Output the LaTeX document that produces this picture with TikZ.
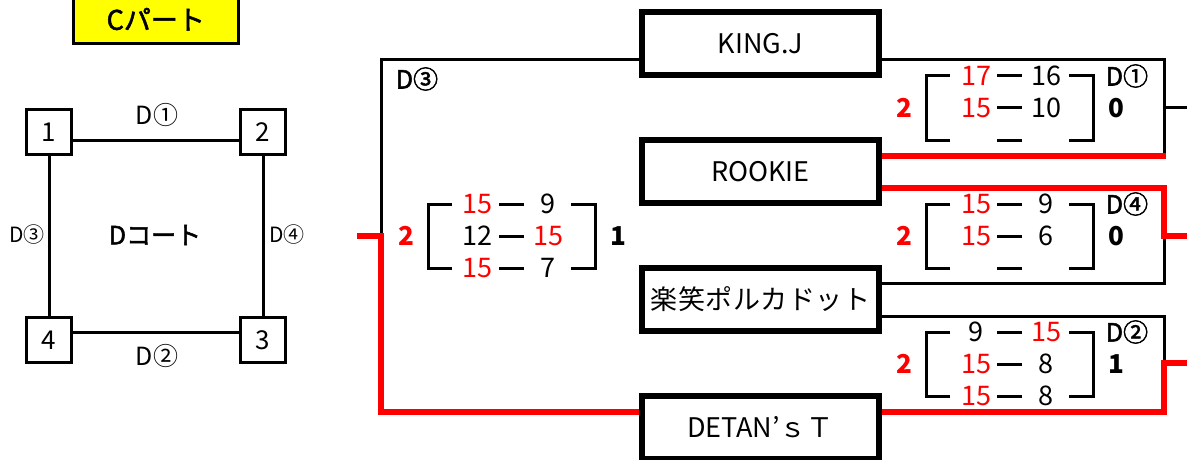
\documentclass[tikz,border=0pt]{standalone}
\usepackage{fontspec}
\setmainfont{Noto Sans CJK JP}
\newfontfamily\medfont[FakeBold=2]{Noto Sans CJK JP}
\definecolor{rd}{RGB}{255,0,0}
\definecolor{yl}{RGB}{255,255,0}
\tikzset{
  team/.style={draw, line width=6pt, minimum width=237pt, minimum height=63pt, inner sep=0pt, font=\fontsize{27}{27}\selectfont},
  cbox/.style={draw, line width=3pt, minimum size=45pt, inner sep=0pt, font=\fontsize{26}{26}\selectfont},
  lose/.style={line width=3pt},
  win/.style={draw=rd, line width=6pt},
  brk/.style={line width=3pt},
  sc/.style={inner sep=0pt, font=\fontsize{27}{27}\selectfont},
  scr/.style={sc, text=rd},
  res/.style={inner sep=0pt, font=\bfseries\fontsize{26}{26}\selectfont},
  resr/.style={res, text=rd},
  lbl/.style={inner sep=0pt, font=\medfont\fontsize{25}{25}\selectfont},
  side/.style={inner sep=0pt, font=\fontsize{21}{21}\selectfont},
  topl/.style={inner sep=0pt, font=\fontsize{25}{25}\selectfont},
}
\newcommand{\bkt}[2]{%
  \draw[brk] (#1+24,#2-32) -- (#1,#2-32) -- (#1,#2+32) -- (#1+24,#2+32);
  \draw[brk] (#1+143,#2-32) -- (#1+167,#2-32) -- (#1+167,#2+32) -- (#1+143,#2+32);
  \foreach \d in {-32,0,32} \draw[brk] (#1+71,#2+\d) -- (#1+96,#2+\d);
}
\begin{document}
\begin{tikzpicture}[x=1pt,y=-1pt]
\useasboundingbox (0,0) rectangle (1187,460);
% ---- left: court
\node[draw, line width=3pt, fill=yl, minimum width=164.5pt, minimum height=48.5pt, inner sep=0pt,
      font=\medfont\fontsize{27}{27}\selectfont] (cp) at (155.75,19.25) {Cパート};
\node[cbox] (c1) at (49,132) {1};
\node[cbox] (c2) at (263,132) {2};
\node[cbox] (c3) at (263,340) {3};
\node[cbox] (c4) at (49,340) {4};
\draw[lose] ([yshift=-8pt]c1.east) -- ([yshift=-8pt]c2.west);
\draw[lose] ([yshift=8pt]c4.east) -- ([yshift=8pt]c3.west);
\draw[lose] (c1.south) -- (c4.north);
\draw[lose] (c2.south) -- (c3.north);
\node[topl] (l1) at (157,115) {D①};
\node[topl] (l2) at (157,356) {D②};
\node[side] (l3) at (27,235) {D③};
\node[side] (l4) at (287,235) {D④};
\node[inner sep=0pt, font=\medfont\fontsize{25}{25}\selectfont] (court) at (155,235) {Dコート};
% ---- teams
\node[team] (K) at (760.5,43.5) {KING.J};
\node[team] (R) at (760.5,171.5) {ROOKIE};
\node[team] (G) at (760.5,299.5) {\makebox[220pt][s]{楽\hfil 笑\hfil ポ\hfil ル\hfil カ\hfil ド\hfil ッ\hfil ト}};
\node[team] (T) at (760.5,427.5) {DETAN’ｓＴ};
% ---- corner coordinates
\coordinate (a1) at (381,60);
\coordinate (a2) at (381,236);
\coordinate (a0) at (357,236);
\coordinate (a3) at (381,412);
\coordinate (b1) at (1164,60);
\coordinate (b2) at (1164,156);
\coordinate (b3) at (1164,108);
\coordinate (b4) at (1187,108);
\coordinate (e1) at (1164,188);
\coordinate (e2) at (1164,236);
\coordinate (e3) at (1187,236);
\coordinate (e4) at (1164,283);
\coordinate (f1) at (1164,316);
\coordinate (f2) at (1164,363);
\coordinate (f3) at (1187,363);
\coordinate (f4) at (1164,412);
% ---- D3
\draw[lose] ([yshift=-16.5pt]K.west) -- (a1) -- (a2);
\draw[win] (a0) -- (a2) -- (a3) -- ([yshift=15.5pt]T.west);
% ---- D1
\draw[lose] ([yshift=-16.5pt]K.east) -- (b1) -- (b2);
\draw[lose] (b3) -- (b4);
\draw[win] ([yshift=15.5pt]R.east) -- ([xshift=1.5pt]b2);
% ---- D4
\draw[lose] ([yshift=16.5pt]G.east) -- (e4) -- (e2);
\draw[win] ([yshift=-16.5pt]R.east) -- (e1) -- (e2) -- (e3);
% ---- D2
\draw[lose] ([yshift=-16.5pt]G.east) -- (f1) -- (f2);
\draw[win] (f3) -- (f2) -- (f4) -- ([yshift=15.5pt]T.east);
% ---- score brackets
\bkt{428}{236}
\bkt{926}{108}
\bkt{926}{236}
\bkt{926}{364}
% D3 scores
\node[lbl] (d3) at (417,79) {D③};
\node[resr] (d3w) at (406,236) {2};
\node[res] (d3l) at (618,236) {1};
\node[scr] (d3a1) at (477,204) {15};
\node[sc] (d3b1) at (548,204) {9};
\node[sc] (d3a2) at (477,236) {12};
\node[scr] (d3b2) at (548,236) {15};
\node[scr] (d3a3) at (477,268) {15};
\node[sc] (d3b3) at (548,268) {7};
% D1 scores
\node[lbl] (d1) at (1127,76) {D①};
\node[resr] (d1w) at (904,108) {2};
\node[res] (d1l) at (1116,108) {0};
\node[scr] (d1a1) at (976,76) {17};
\node[sc] (d1b1) at (1046,76) {16};
\node[scr] (d1a2) at (976,108) {15};
\node[sc] (d1b2) at (1046,108) {10};
% D4 scores
\node[lbl] (d4) at (1127,204) {D④};
\node[resr] (d4w) at (904,236) {2};
\node[res] (d4l) at (1116,236) {0};
\node[scr] (d4a1) at (976,204) {15};
\node[sc] (d4b1) at (1046,204) {9};
\node[scr] (d4a2) at (976,236) {15};
\node[sc] (d4b2) at (1046,236) {6};
% D2 scores
\node[lbl] (d2) at (1127,332) {D②};
\node[resr] (d2w) at (904,364) {2};
\node[res] (d2l) at (1116,364) {1};
\node[sc] (d2a1) at (976,332) {9};
\node[scr] (d2b1) at (1046,332) {15};
\node[scr] (d2a2) at (976,364) {15};
\node[sc] (d2b2) at (1046,364) {8};
\node[scr] (d2a3) at (976,396) {15};
\node[sc] (d2b3) at (1046,396) {8};
\end{tikzpicture}
\end{document}
